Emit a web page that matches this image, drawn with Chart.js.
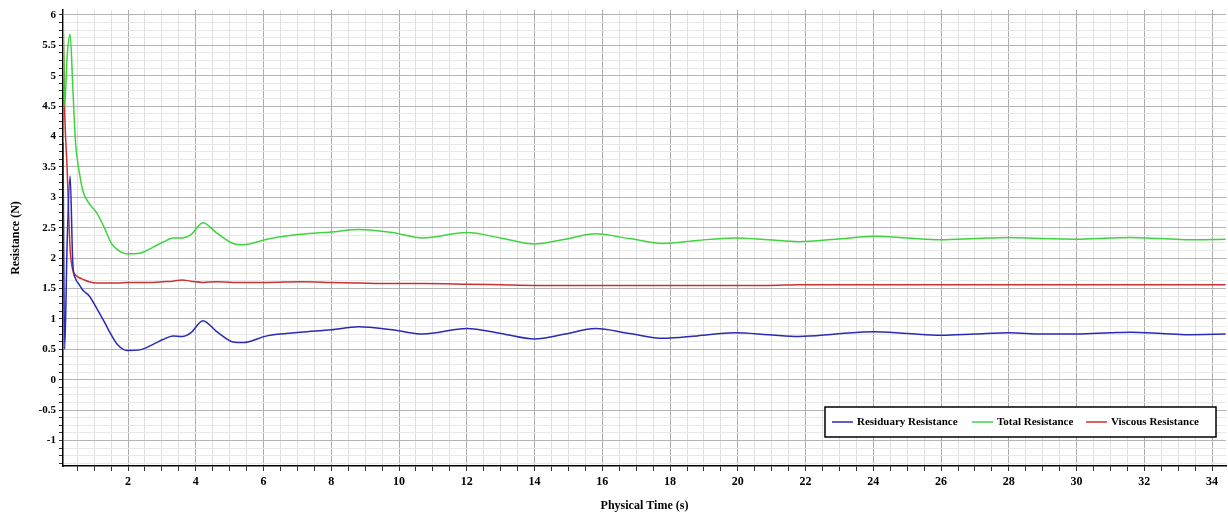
<!DOCTYPE html>
<html>
<head>
<meta charset="utf-8">
<script src="https://cdn.jsdelivr.net/npm/chart.js@4.4.1/dist/chart.umd.min.js"></script>
<style>
  html, body { margin: 0; padding: 0; background: #fff; }
  canvas { display: block; }
</style>
</head>
<body>
<canvas id="myChart1" width="1228" height="517"></canvas>
<script>
// physical time (s)
var time = [0.08, 0.13, 0.2, 0.29, 0.37, 0.45, 0.55, 0.67, 0.85, 1.08, 1.3, 1.5, 1.7, 1.97, 2.35, 2.74,
    3.03, 3.33, 3.6, 3.85, 4.21, 4.6, 5.1, 5.4, 6.1, 7.1, 8.0, 8.8, 9.8, 10.7, 12.0, 13.0, 14.0, 14.9,
    15.8, 16.8, 17.8, 18.8, 19.9, 20.9, 21.8, 22.9, 24.0, 25.0, 26.0, 27.0, 28.0, 29.0, 30.0, 31.0,
    31.6, 32.5, 33.3, 34.4];

var residuary = [3.9, 0.5, 2.2, 3.35, 1.9, 1.66, 1.57, 1.47, 1.38, 1.17, 0.95, 0.74, 0.57, 0.48, 0.49, 0.58,
    0.66, 0.72, 0.71, 0.77, 0.97, 0.8, 0.62, 0.61, 0.72, 0.78, 0.82, 0.87, 0.82, 0.75, 0.84, 0.76, 0.67, 0.75,
    0.84, 0.76, 0.68, 0.72, 0.77, 0.74, 0.71, 0.75, 0.79, 0.76, 0.73, 0.75, 0.77, 0.75, 0.75, 0.77,
    0.78, 0.76, 0.74, 0.75];

var total = [6.2, 4.5, 5.3, 5.68, 4.8, 3.9, 3.45, 3.1, 2.9, 2.74, 2.5, 2.25, 2.13, 2.07, 2.08, 2.18,
    2.26, 2.33, 2.33, 2.38, 2.58, 2.42, 2.24, 2.22, 2.31, 2.39, 2.43, 2.47, 2.42, 2.33, 2.42, 2.33, 2.23, 2.31,
    2.4, 2.32, 2.24, 2.29, 2.33, 2.3, 2.27, 2.31, 2.36, 2.33, 2.3, 2.32, 2.34, 2.32, 2.31, 2.33,
    2.34, 2.32, 2.3, 2.31];

var viscous = [6.0, 4.4, 3.5, 2.15, 1.8, 1.72, 1.68, 1.65, 1.61, 1.59, 1.59, 1.59, 1.59, 1.6, 1.6, 1.6,
    1.61, 1.62, 1.64, 1.62, 1.6, 1.61, 1.6, 1.6, 1.6, 1.61, 1.6, 1.59, 1.58, 1.58, 1.57, 1.56, 1.55, 1.55,
    1.55, 1.55, 1.55, 1.55, 1.55, 1.55, 1.56, 1.56, 1.56, 1.56, 1.56, 1.56, 1.56, 1.56, 1.56, 1.56,
    1.56, 1.56, 1.56, 1.56];

var seriesNames = ['Residuary Resistance', 'Total Resistance', 'Viscous Resistance'];
var seriesColors = ['#2a2ab4', '#3fd43f', '#c83232'];

function toPoints(values) {
    var pts = [];
    for (var i = 0; i < time.length; i++) {
        pts.push({ x: time[i], y: values[i] });
    }
    return pts;
}

var serif = "'Liberation Serif', 'Times New Roman', serif";

// legend box drawn inside the plot, lower right
var boxLegend = {
    id: 'boxLegend',
    afterDraw: function(chart) {
        var c = chart.ctx;
        var x0 = 825, y0 = 407, w = 391, h = 30;
        c.save();
        c.fillStyle = '#fff';
        c.fillRect(x0, y0, w, h);
        c.strokeStyle = '#000';
        c.lineWidth = 1.5;
        c.strokeRect(x0, y0, w, h);
        c.font = 'bold 11px ' + serif;
        c.textBaseline = 'middle';
        var starts = [832, 972, 1086];
        chart.data.datasets.forEach(function(ds, i) {
            var sx = starts[i], cy = y0 + h / 2;
            c.strokeStyle = ds.borderColor;
            c.lineWidth = 1.5;
            c.beginPath();
            c.moveTo(sx, cy);
            c.lineTo(sx + 21, cy);
            c.stroke();
            c.fillStyle = '#000';
            c.fillText(ds.label, sx + 25, cy);
        });
        c.restore();
    }
};

const ctx = document.getElementById('myChart1').getContext('2d');
const myChart = new Chart(ctx, {
    type: 'line',
    data: {
        datasets: [
            { label: seriesNames[0], data: toPoints(residuary), borderColor: seriesColors[0], borderWidth: 1.5 },
            { label: seriesNames[1], data: toPoints(total), borderColor: seriesColors[1], borderWidth: 1.5 },
            { label: seriesNames[2], data: toPoints(viscous), borderColor: seriesColors[2], borderWidth: 1.5 }
        ]
    },
    options: {
        responsive: false,
        animation: false,
        devicePixelRatio: 1,
        layout: { padding: { top: 10, right: 2, left: 0, bottom: 0 } },
        elements: {
            point: { radius: 0 },
            line: { cubicInterpolationMode: 'monotone', fill: false }
        },
        plugins: {
            legend: { display: false },
            tooltip: { enabled: false }
        },
        scales: {
            x: {
                type: 'linear',
                min: 0.08,
                max: 34.41,
                afterBuildTicks: function(scale) {
                    var t = [];
                    for (var i = 1; i <= 68; i++) t.push({ value: i / 2 });
                    scale.ticks = t;
                },
                afterFit: function(scale) { scale.height = 51; },
                ticks: {
                    autoSkip: false,
                    maxRotation: 0,
                    padding: 4,
                    color: '#000',
                    font: { family: serif, size: 12, weight: 'bold' },
                    callback: function(value) { return value % 2 === 0 ? String(value) : ''; }
                },
                grid: {
                    color: function(c) { return c.tick && c.tick.value % 2 === 0 ? '#ababab' : '#e0e0e0'; },
                    tickColor: '#333',
                    tickLength: 5
                },
                border: { color: '#000', width: 1.5 },
                title: {
                    display: true,
                    text: 'Physical Time (s)',
                    color: '#000',
                    font: { family: serif, size: 12, weight: 'bold' },
                    padding: { top: 4, bottom: 4 }
                }
            },
            y: {
                min: -1.42,
                max: 6.08,
                afterBuildTicks: function(scale) {
                    // minor ticks every 0.125, labels every 0.5
                    var t = [];
                    for (var i = -11; i <= 48; i++) t.push({ value: i / 8 });
                    scale.ticks = t;
                },
                afterFit: function(scale) { scale.width = 63; },
                ticks: {
                    autoSkip: false,
                    padding: 3,
                    color: '#000',
                    font: { family: serif, size: 11, weight: 'bold' },
                    callback: function(value) {
                        return (value * 8) % 4 === 0 ? String(value) : '';
                    }
                },
                grid: {
                    color: function(c) {
                        if (!c.tick) return '#e8e8e8';
                        return (c.tick.value * 8) % 4 === 0 ? '#b4b4b4' : '#e8e8e8';
                    },
                    tickColor: '#333',
                    tickLength: 4
                },
                border: { color: '#000', width: 1.5 },
                title: {
                    display: true,
                    text: 'Resistance (N)',
                    color: '#000',
                    font: { family: serif, size: 12, weight: 'bold' },
                    padding: { top: 9, bottom: 2 }
                }
            }
        }
    },
    plugins: [boxLegend]
});
</script>
</body>
</html>
